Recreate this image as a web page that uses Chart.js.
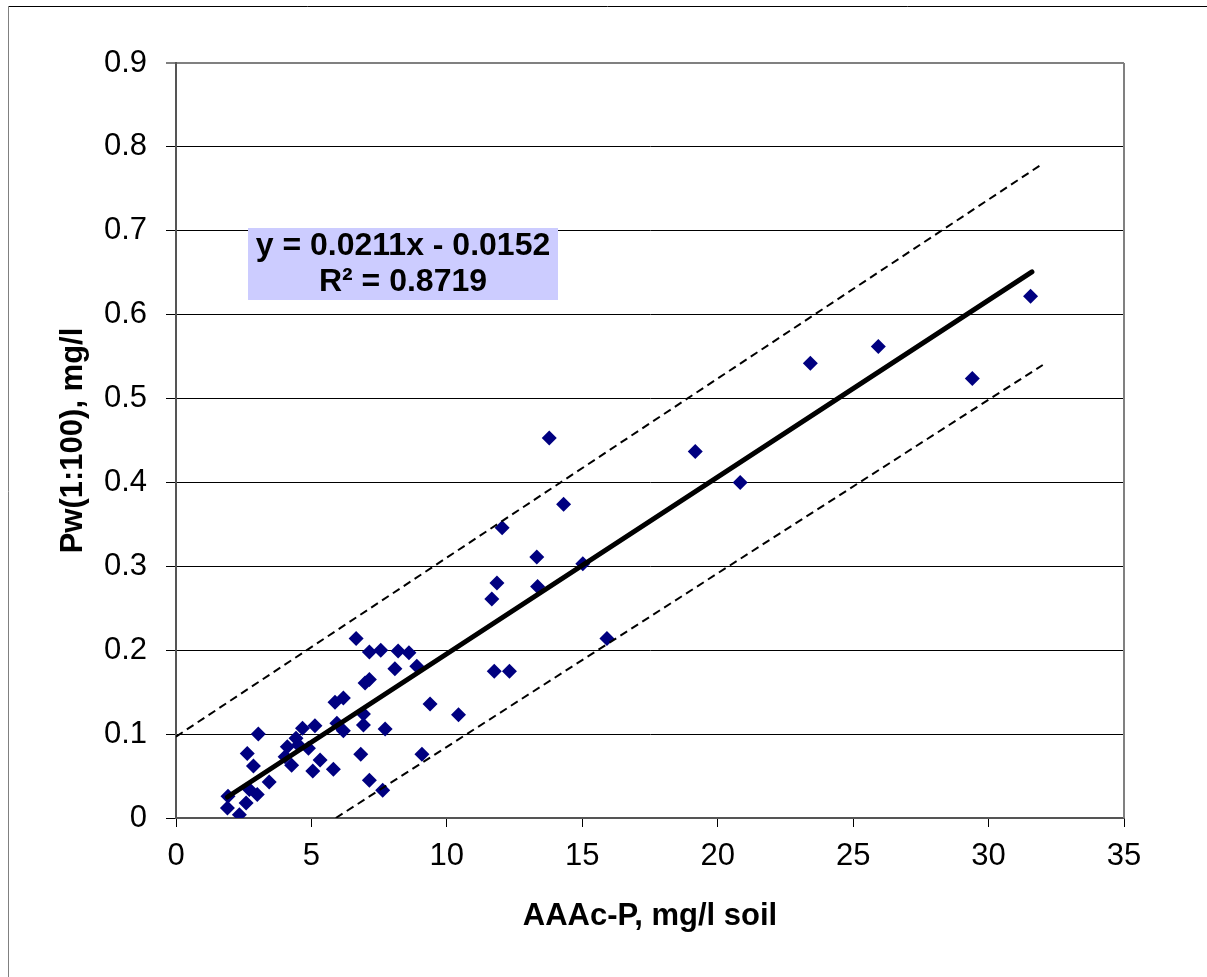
<!DOCTYPE html>
<html>
<head>
<meta charset="utf-8">
<script src="https://cdn.jsdelivr.net/npm/chart.js@4.4.1/dist/chart.umd.min.js"></script>
<style>
  html, body { margin: 0; padding: 0; background: #fff; }
  #wrap { width: 1207px; height: 977px; }
</style>
</head>
<body>
<div id="wrap"><canvas id="chart" width="1207" height="977"></canvas></div>
<script>
// AAAc-P (mg/l soil) vs Pw(1:100) (mg/l)
const aaacP = [1.92, 1.90, 2.34, 2.59, 2.63, 2.86, 2.71, 3.00, 3.04, 3.44,
               4.03, 4.11, 4.27, 4.43, 4.52, 4.67, 4.89, 5.05, 5.13, 5.32,
               5.81, 5.87, 5.94, 6.18, 6.18, 6.65, 6.82, 6.92, 6.92, 6.98,
               7.14, 7.14, 7.14, 7.56, 7.63, 7.72, 8.08, 8.20, 8.60, 8.89,
               9.08, 9.38, 10.43, 11.66, 11.75, 11.85, 12.04, 12.31, 13.32, 13.35,
               13.78, 14.31, 15.02, 15.91, 19.17, 20.83, 23.42, 25.93, 29.40, 31.55];
const pw    = [0.026, 0.012, 0.004, 0.018, 0.077, 0.062, 0.034, 0.028, 0.100, 0.043,
               0.073, 0.085, 0.063, 0.095, 0.087, 0.107, 0.083, 0.056, 0.110, 0.069,
               0.058, 0.138, 0.113, 0.104, 0.143, 0.214, 0.076, 0.111, 0.124, 0.161,
               0.165, 0.198, 0.045, 0.200, 0.033, 0.106, 0.178, 0.199, 0.197, 0.181,
               0.076, 0.136, 0.123, 0.261, 0.175, 0.280, 0.346, 0.175, 0.311, 0.276,
               0.453, 0.374, 0.303, 0.214, 0.437, 0.400, 0.542, 0.562, 0.524, 0.622];

// trend line and the two dashed bounds (end points)
const trendX = [1.9, 31.6];
const trendY = [0.025, 0.651];
const upperX = [0, 32];
const upperY = [0.097, 0.78];
const lowerX = [5.9, 32];
const lowerY = [0, 0.54];

const eqLines = ['y = 0.0211x - 0.0152', 'R\u00B2 = 0.8719'];
const xTitle = 'AAAc-P, mg/l soil';
const yTitle = 'Pw(1:100), mg/l';

const FONT = '"Liberation Sans", Arial, sans-serif';

function toPts(xs, ys) {
    return xs.map((x, i) => ({ x: x, y: ys[i] }));
}

// frame, plot border on the right and the equation box
const extras = {
    id: 'extras',
    afterDraw(chart) {
        const ctx = chart.ctx;
        const a = chart.chartArea;
        ctx.save();
        // outer frame (only top and left visible)
        ctx.strokeStyle = '#000';
        ctx.lineWidth = 1;
        ctx.beginPath();
        ctx.moveTo(8, 6.5);
        ctx.lineTo(1207, 6.5);
        ctx.stroke();
        ctx.strokeStyle = '#808080';
        ctx.beginPath();
        ctx.moveTo(8.5, 6);
        ctx.lineTo(8.5, 977);
        ctx.stroke();
        // right border of plot area
        ctx.strokeStyle = '#808080';
        ctx.lineWidth = 2;
        ctx.beginPath();
        ctx.moveTo(a.right, a.top);
        ctx.lineTo(a.right, a.bottom);
        ctx.stroke();

        // equation box
        const bx = a.left + 72, by = a.top + 165, bw = 310, bh = 72;
        ctx.fillStyle = '#CCCCFF';
        ctx.fillRect(bx, by, bw, bh);
        ctx.fillStyle = '#000';
        ctx.font = 'bold 32px ' + FONT;
        ctx.textAlign = 'center';
        ctx.textBaseline = 'middle';
        ctx.fillText(eqLines[0], bx + bw / 2, by + 18);
        ctx.fillText(eqLines[1], bx + bw / 2, by + 54);
        ctx.restore();
    }
};

new Chart(document.getElementById('chart'), {
    type: 'scatter',
    data: {
        datasets: [
            {
                label: 'upper',
                data: toPts(upperX, upperY),
                showLine: true,
                borderColor: '#000',
                borderWidth: 2,
                borderDash: [8, 5],
                pointRadius: 0,
                fill: false
            },
            {
                label: 'lower',
                data: toPts(lowerX, lowerY),
                showLine: true,
                borderColor: '#000',
                borderWidth: 2,
                borderDash: [8, 5],
                pointRadius: 0,
                fill: false
            },
            {
                label: 'trend',
                data: toPts(trendX, trendY),
                showLine: true,
                borderColor: '#000',
                borderWidth: 5,
                borderCapStyle: 'round',
                pointRadius: 0,
                fill: false
            },
            {
                label: 'samples',
                data: toPts(aaacP, pw),
                pointStyle: 'rectRot',
                pointRadius: 7.5,
                pointBackgroundColor: '#000080',
                pointBorderColor: '#000080',
                pointBorderWidth: 0,
                showLine: false
            }
        ]
    },
    options: {
        responsive: false,
        animation: false,
        events: [],
        layout: { padding: { left: 0, top: 63, right: 83, bottom: 0 } },
        plugins: {
            legend: { display: false },
            tooltip: { enabled: false }
        },
        scales: {
            x: {
                type: 'linear',
                min: 0,
                max: 35,
                afterFit: (s) => { s.height = 977 - 818; },
                ticks: {
                    stepSize: 5,
                    color: '#000',
                    padding: 11,
                    font: { family: FONT, size: 31 }
                },
                grid: {
                    drawOnChartArea: false,
                    drawTicks: true,
                    tickLength: 9,
                    tickColor: '#000',
                    tickWidth: 1
                },
                border: { display: true, color: '#555', width: 2 },
                title: {
                    display: true,
                    text: xTitle,
                    color: '#000',
                    font: { family: FONT, size: 31, weight: 'bold' },
                    padding: { top: 42, bottom: 42 }
                }
            },
            y: {
                type: 'linear',
                min: 0,
                max: 0.9,
                afterFit: (s) => { s.width = 176; },
                ticks: {
                    stepSize: 0.1,
                    color: '#000',
                    padding: 19,
                    font: { family: FONT, size: 31 }
                },
                grid: {
                    color: (c) => (c.tick && c.tick.value >= 0.9 ? '#808080' : '#000'),
                    lineWidth: (c) => (c.tick && c.tick.value >= 0.9 ? 2 : 1),
                    tickLength: 10,
                    tickColor: '#000',
                    tickWidth: 1
                },
                border: { display: true, color: '#555', width: 2 },
                title: {
                    display: true,
                    text: yTitle,
                    color: '#000',
                    font: { family: FONT, size: 31, weight: 'bold' },
                    padding: { top: 55, bottom: 55 }
                }
            }
        }
    },
    plugins: [extras]
});
</script>
</body>
</html>
